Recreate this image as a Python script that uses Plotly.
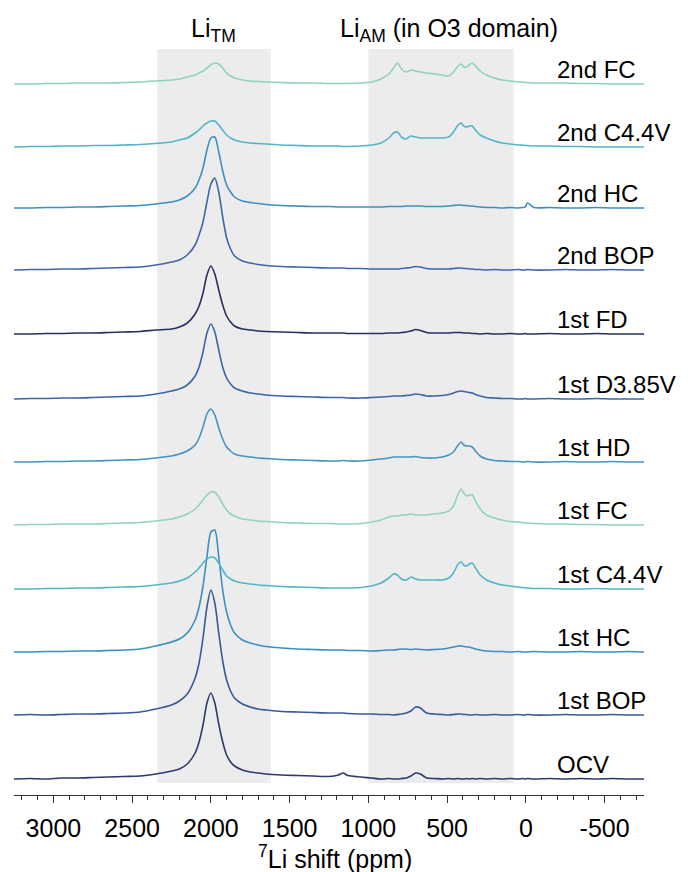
import plotly.graph_objects as go

# 7Li chemical shift grid (ppm), shared by all spectra
ppm = [3250, 3150, 3050, 2950, 2850, 2750, 2650, 2550, 2450,
       2350, 2250, 2200, 2150, 2100, 2075, 2050, 2025, 2000, 1975, 1950, 1925, 1900, 1875, 1850, 1800, 1750, 1700, 1650,
       1550, 1450, 1350, 1250, 1190, 1160, 1130, 1050,
       980, 920, 870, 840, 815, 790, 760, 730, 700, 670, 630, 580, 530, 490, 460, 430, 410, 395, 375, 360, 340, 320, 290, 250, 200,
       150, 100, 50, 20, 5, -10, -50, -150, -250, -350, -450, -550, -650, -750]

# Spectra intensities (arbitrary units, relative to each baseline)
ocv = [0, 0.5, 0, 1, 1, 1.5, 2, 2.5, 3,
       5, 8, 10, 15, 26, 37, 54, 76, 86, 76, 55, 37, 24, 17, 13, 9, 7, 6, 5,
       4, 3.5, 3, 2.5, 4, 6, 3.5, 2,
       1, 0, 0.5, 0, 0, 0.5, 1, 3, 6, 5, 1, 0.5, 0, 0.5, 0, 0.5, 0, 0, 0.5, 0, 0.5, 0, 0.5, 0, 0.5,
       0, 0.5, 0, 0.5, 0, 0.5, 0, 0.5, 0, 0.5, 0, 0.5, 0, 0]

bop_1st = [0, 0.5, 0, 0.5, 1, 1, 1.5, 2, 3,
           6, 10, 14, 21, 37, 52, 77, 108, 125, 112, 82, 54, 35, 24, 17, 11, 8, 6, 5,
           3.5, 3, 2.5, 2, 2, 2, 1.5, 1,
           1, 0.5, 0.5, 0, 0.5, 1, 2, 4, 8, 7, 2, 1, 0.5, 0, 0.5, 1, 1, 0.5, 0.5, 0, 0, 0.5, 0, 0, 0.5,
           0, 0, 0.5, 0, 0, 0.5, 0, 0, 0.5, 0, 0, 0.5, 0, 0]

hc_1st = [0, 0, 0.5, 0.5, 1, 1, 1.5, 2, 3,
          6, 10, 13, 19, 32, 45, 66, 95, 120, 122, 95, 62, 40, 27, 19, 12, 9, 7, 5.5,
          4, 3, 2.5, 2, 2, 2, 1.5, 1.5,
          1, 1.5, 2, 2, 2.5, 3, 3, 2.5, 3, 2.5, 2, 2.5, 3, 4, 5, 6, 6, 5.5, 5, 5, 4, 3, 2, 1, 0.5,
          0.5, 0, 0.5, 0, 0, 0, 0.5, 0, 0, 0.5, 0, 0, 0.5, 0]

c44_1st = [0, 0, 0.5, 0.5, 1, 1, 1.5, 2, 2.5,
           4, 6, 8, 11, 17, 21, 26, 30, 32, 31, 26, 19, 13, 10, 8, 6, 5, 4, 3.5,
           2.5, 2, 1.5, 1, 1, 1, 1, 1.5,
           3, 6, 11, 15, 14, 10, 9, 12, 10, 9, 9, 9, 9, 11, 16, 25, 27, 24, 23, 25, 26, 21, 14, 9, 6,
           4, 3, 2, 1.5, 1, 1, 0.5, 0.5, 0, 0, 0.5, 0, 0, 0]

fc_1st = [0, 0.5, 0.5, 1, 1, 1, 1.5, 2, 2.5,
          4, 6, 8, 11, 16, 20, 25, 30, 33, 33, 28, 21, 15, 11, 9, 6, 5, 4, 3.5,
          2.5, 2, 1.5, 1.5, 1, 1, 1, 1.5,
          3, 5, 8, 9, 9, 10, 10, 11, 10, 10, 10, 11, 12, 14, 19, 31, 36, 32, 29, 30, 30, 24, 16, 10, 7,
          5, 3.5, 3, 2.5, 2, 2, 1.5, 1, 1, 0.5, 0.5, 0, 0, 0]

hd_1st = [0, 0, 0.5, 0.5, 1, 1, 1.5, 2, 2.5,
          4, 6, 8, 11, 17, 24, 35, 48, 53, 47, 34, 23, 15, 11, 8, 6, 5, 4, 3.5,
          2.5, 2, 1.5, 1, 1, 1.5, 1, 1,
          2, 3, 4, 5, 5, 5, 5, 5, 5.5, 4.5, 4, 4, 5, 7, 10, 17, 20, 17, 16, 16, 15, 11, 6, 3, 1.5,
          1, 0.5, 0.5, 0, 0, 0.5, 0, 0, 0.5, 0, 0, 0.5, 0, 0]

d385_1st = [0, 0.5, 0.5, 1, 1, 1.5, 2, 2.5, 3,
            5, 8, 10, 14, 23, 32, 47, 66, 75, 67, 49, 32, 21, 15, 11, 8, 6, 5, 4,
            3, 2.5, 2, 1.5, 1.5, 1.5, 1, 1,
            1.5, 2, 2.5, 3, 3, 3, 3.5, 4, 5, 4.5, 3, 3, 3.5, 4.5, 6, 7.5, 8, 7.5, 7, 6.5, 6, 4.5, 3, 1.5, 1,
            0.5, 0.5, 0, 0, 0.5, 0, 0, 0.5, 0, 0, 0.5, 0, 0, 0]

fd_1st = [0, 0, 0.5, 0.5, 1, 1, 1.5, 2, 2.5,
          4, 5, 7, 11, 20, 28, 41, 59, 68, 60, 44, 29, 18, 12, 8, 5, 4, 3, 2.5,
          2, 1.5, 1, 1, 1, 1, 0.5, 0.5,
          0.5, 0.5, 1, 1, 1, 1.5, 2, 3, 4.5, 3.5, 1.5, 1, 1, 1, 1.5, 1.5, 1.5, 1, 1, 1, 0.5, 0.5, 0, 0.5, 0,
          0, 0.5, 0, 0, 0.5, 0, 0, 0.5, 0, 0, 0.5, 0, 0, 0]

bop_2nd = [0, 0.5, 0.5, 1, 1, 1.5, 2, 2.5, 3,
           5, 8, 10, 15, 25, 35, 48, 68, 86, 92, 78, 53, 32, 21, 14, 9, 7, 5.5, 4.5,
           3.5, 3, 2.5, 2, 2, 2, 1.5, 1.5,
           1, 1, 1, 1, 1, 1.5, 2, 2.5, 3.5, 3, 1.5, 1, 1, 1, 1.5, 2, 2, 1.5, 1.5, 1, 1, 0.5, 0.5, 0, 0.5,
           0, 0, 0.5, 0, 0, 0.5, 0, 0, 0.5, 0, 0, 0.5, 0, 0]

hc_2nd = [0, 0, 0.5, 0.5, 1, 1, 1.5, 2, 2.5,
          4, 6, 8, 12, 20, 28, 40, 58, 70, 71, 56, 37, 23, 16, 11, 7, 5.5, 4.5, 3.5,
          2.5, 2, 1.5, 1.5, 1, 1, 1, 1,
          1, 1, 1.5, 1.5, 1.5, 1.5, 2, 2, 2, 2, 1.5, 1.5, 1.5, 2, 2.5, 3, 3, 2.5, 2.5, 2, 2, 1.5, 1, 0.5, 0.5,
          0, 0.5, 0, 0.5, 1, 5, 0.5, 0.5, 0, 0, 0.5, 0, 0, 0]

c44_2nd = [0, 0.5, 0.5, 1, 1, 1.5, 1.5, 2, 2.5,
           3.5, 5, 7, 9, 14, 17, 21, 24, 26, 26, 22, 17, 12, 9, 7, 5, 4, 3.5, 3,
           2, 1.5, 1, 1, 1, 0.5, 0.5, 1,
           2, 4, 9, 14, 15, 10, 8, 11, 10, 9, 9, 9, 9, 10, 15, 22, 24, 21, 20, 21, 21, 17, 12, 9, 6,
           4, 3, 2, 2, 1.5, 1.5, 1, 1, 0.5, 0.5, 0, 0, 0, 0]

fc_2nd = [0, 0, 0.5, 0.5, 1, 1, 1, 1.5, 2,
          3, 4, 5, 7, 9, 11, 13, 16, 19, 21, 20, 16, 11, 8, 6, 4, 3, 2.5, 2,
          1.5, 1, 1, 0.5, 0.5, 0.5, 0.5, 1,
          2, 5, 10, 16, 21, 15, 12, 14, 13, 12, 11, 10, 9, 8, 12, 18, 20, 17, 17, 19, 21, 18, 13, 9, 6,
          4, 3, 2, 2, 1.5, 1.5, 1, 1, 1, 0.5, 0.5, 0, 0, 0]

# Stack order (bottom to top)
labels = ["OCV", "1st BOP", "1st HC", "1st C4.4V", "1st FC", "1st HD",
          "1st D3.85V", "1st FD", "2nd BOP", "2nd HC", "2nd C4.4V", "2nd FC"]
series = [ocv, bop_1st, hc_1st, c44_1st, fc_1st, hd_1st,
          d385_1st, fd_1st, bop_2nd, hc_2nd, c44_2nd, fc_2nd]
offsets = [16, 80, 143, 206, 270, 333, 396, 461, 525, 587, 648, 711]
colors = ["#2d3a6d", "#37599a", "#3b8fc1", "#55b5c7", "#92d2c2", "#4592c2",
          "#3a66a6", "#2a2f62", "#3c68a8", "#3e8ec0", "#53b4c9", "#8fd1c2"]

tick_vals = [3000, 2500, 2000, 1500, 1000, 500, 0, -500]
tick_text = ["3000", "2500", "2000", "1500", "1000", "500", "0", "-500"]

# Shaded regions (ppm)
region_tm = (2340, 1620)
region_am = (1000, 78)

FONT = "Liberation Sans, Arial, Helvetica, sans-serif"

fig = go.Figure()

for lab, vals, off, col in zip(labels, series, offsets, colors):
    assert len(vals) == len(ppm), lab
    fig.add_trace(go.Scatter(
        x=ppm, y=[off + v for v in vals], mode="lines", name=lab,
        line=dict(color=col, width=1.6, shape="spline", smoothing=0.7),
        hoverinfo="skip", showlegend=False))

for x0, x1 in (region_tm, region_am):
    fig.add_shape(type="rect", xref="x", yref="y", x0=x0, x1=x1, y0=12, y1=746,
                  fillcolor="#ececec", line=dict(width=0), layer="below")

annotations = []
for lab, off in zip(labels, offsets):
    annotations.append(dict(x=-184, y=off + 15, xref="x", yref="y", text=lab,
                            showarrow=False, xanchor="left", yanchor="middle",
                            font=dict(family=FONT, size=24, color="black")))

# Region headings, placed just above the plotting area
annotations.append(dict(x=1985, y=1.0, xref="x", yref="paper", text="Li<sub>TM</sub>",
                        showarrow=False, xanchor="center", yanchor="middle",
                        font=dict(family=FONT, size=25, color="black")))
annotations.append(dict(x=489, y=1.0, xref="x", yref="paper",
                        text="Li<sub>AM</sub> (in O3 domain)",
                        showarrow=False, xanchor="center", yanchor="middle",
                        font=dict(family=FONT, size=25, color="black")))
annotations.append(dict(x=0.51, y=-0.081, xref="paper", yref="paper",
                        text="<sup>7</sup>Li shift (ppm)",
                        showarrow=False, xanchor="center", yanchor="middle",
                        font=dict(family=FONT, size=25, color="black")))

fig.update_layout(
    width=688, height=872,
    margin=dict(l=14, r=44, t=30, b=77),
    plot_bgcolor="white", paper_bgcolor="white",
    showlegend=False,
    font=dict(family=FONT, color="black"),
    annotations=annotations,
    xaxis=dict(
        range=[3250, -750], tickmode="array", tickvals=tick_vals, ticktext=tick_text,
        ticks="outside", ticklen=7, tickwidth=1.3, tickcolor="#333",
        showline=True, linecolor="#333", linewidth=1.3,
        showgrid=False, zeroline=False,
        tickfont=dict(family=FONT, size=25, color="black"),
        ticklabelstandoff=4,
        minor=dict(tickmode="linear", tick0=0, dtick=100, ticks="outside",
                   ticklen=4, tickwidth=1, tickcolor="#333", showgrid=False),
    ),
    yaxis=dict(range=[0, 765], visible=False, fixedrange=True),
)

fig.write_html("out.html")
